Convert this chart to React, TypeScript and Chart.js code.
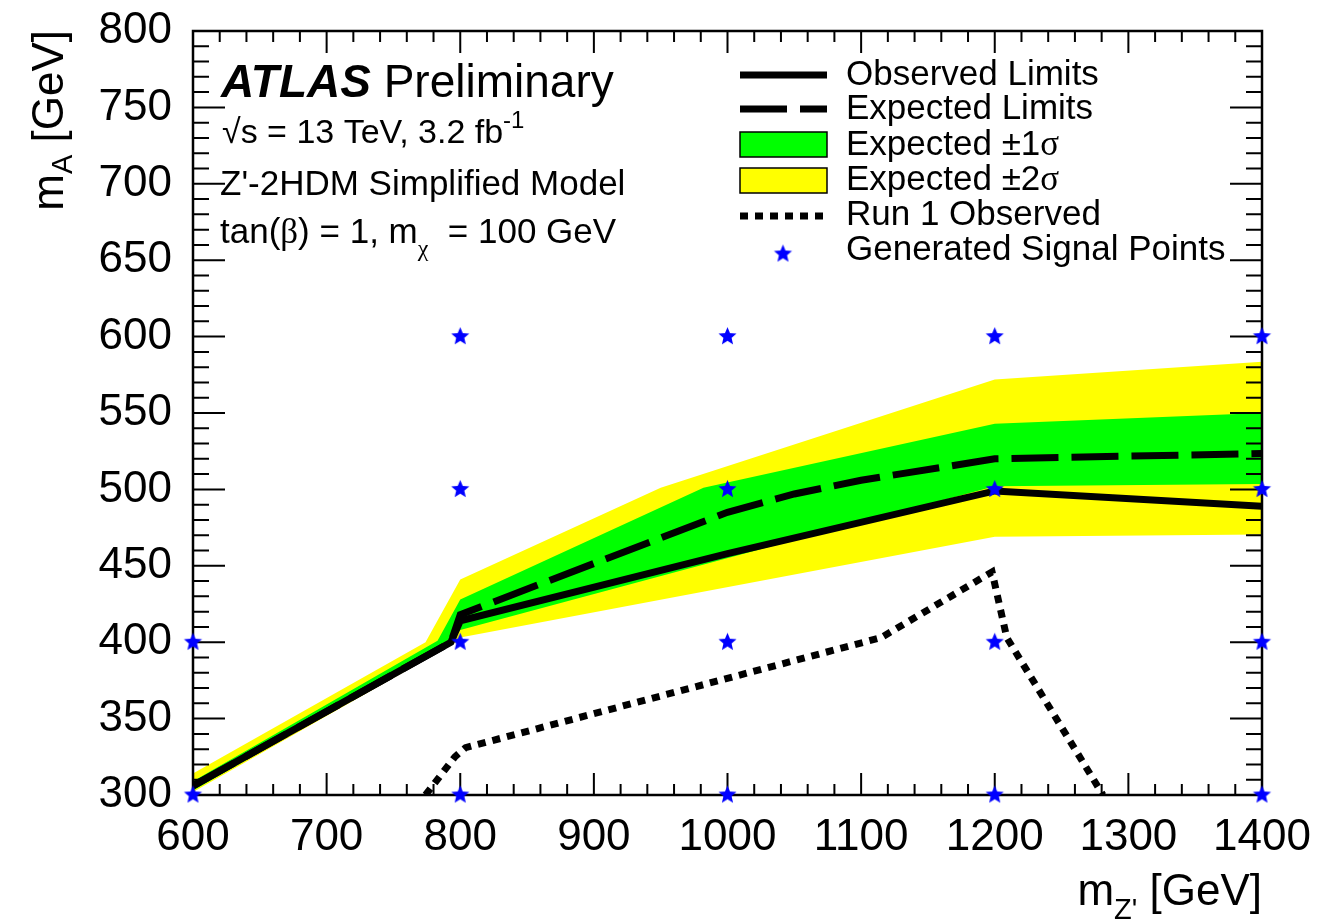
import React, { useEffect, useRef } from 'react';
import { Chart, registerables } from 'chart.js';

Chart.register(...registerables);

const SANS = '"Liberation Sans", Arial, Helvetica, sans-serif';
const SERIF = '"Liberation Serif", "Times New Roman", serif';

// ---- axes ----
const X_MIN = 600;
const X_MAX = 1400;
const X_MAJOR = 100;
const X_MINOR = 20;
const Y_MIN = 300;
const Y_MAX = 800;
const Y_MAJOR = 50;
const Y_MINOR = 10;

// ---- data (m_Z' [GeV], m_A [GeV]) ----
const obsX = [600, 793, 800, 1000, 1200, 1400];
const obsY = [306, 400, 414, 458, 499, 489];

const expX = [600, 793, 800, 1000, 1050, 1100, 1200, 1400];
const expY = [306, 400, 418, 485, 497, 506, 520, 523.5];

const sig1UpX = [600, 783, 800, 982, 1200, 1400];
const sig1UpY = [309, 401, 428, 501, 543, 550];
const sig1LoX = [600, 792, 800, 1200, 1400];
const sig1LoY = [303, 399, 408, 502, 503.5];

const sig2UpX = [600, 774, 800, 950, 1200, 1400];
const sig2UpY = [314, 400, 441, 501, 572, 583.5];
const sig2LoX = [600, 797, 800, 1200, 1400];
const sig2LoY = [302, 400, 403, 469, 470.5];

const run1X = [774, 796, 804, 1115, 1198, 1209, 1281];
const run1Y = [300, 325, 331, 403, 446, 403, 300];

const sigPtX = [600, 600, 800, 800, 800, 800, 1000, 1000, 1000, 1000, 1200, 1200, 1200, 1200, 1400, 1400, 1400, 1400];
const sigPtY = [300, 400, 300, 400, 500, 600, 300, 400, 500, 600, 300, 400, 500, 600, 300, 400, 500, 600];

const legendLabels = [
  'Observed Limits',
  'Expected Limits',
  'Expected ±1σ',
  'Expected ±2σ',
  'Run 1 Observed',
  'Generated Signal Points',
];

const YELLOW = '#ffff00';
const GREEN = '#00ff00';
const BLUE = '#0000ff';

const pts = (xs: number[], ys: number[]) => xs.map((x, i) => ({ x, y: ys[i] }));
const band = (ux: number[], uy: number[], lx: number[], ly: number[]) =>
  [...pts(ux, uy), ...pts(lx, ly).reverse()];

function makeStar(r: number, color: string) {
  const c = document.createElement('canvas');
  const s = Math.ceil(r * 2 + 2);
  c.width = s;
  c.height = s;
  const g = c.getContext('2d')!;
  g.fillStyle = color;
  g.beginPath();
  for (let i = 0; i < 10; i++) {
    const rad = i % 2 === 0 ? r : r * 0.45;
    const a = -Math.PI / 2 + (i * Math.PI) / 5;
    g.lineTo(s / 2 + rad * Math.cos(a), s / 2 + rad * Math.sin(a));
  }
  g.closePath();
  g.fill();
  return c;
}

type Run = { t: string; font: string; dy?: number };

function greek(text: string, size: number, style = ''): Run[] {
  const runs: Run[] = [];
  let cur = '';
  let curG = false;
  const push = () => {
    if (cur) runs.push({ t: cur, font: `${style} ${size}px ${curG ? SERIF : SANS}` });
    cur = '';
  };
  for (const ch of text) {
    const g = 'σβχ'.includes(ch);
    if (g !== curG) {
      push();
      curG = g;
    }
    cur += ch;
  }
  push();
  return runs;
}

function drawRuns(ctx: CanvasRenderingContext2D, runs: Run[], x: number, y: number, align: 'left' | 'right' = 'left') {
  let total = 0;
  for (const r of runs) {
    ctx.font = r.font;
    total += ctx.measureText(r.t).width;
  }
  let cx = align === 'right' ? x - total : x;
  ctx.textAlign = 'left';
  ctx.textBaseline = 'alphabetic';
  for (const r of runs) {
    ctx.font = r.font;
    ctx.fillText(r.t, cx, y + (r.dy || 0));
    cx += ctx.measureText(r.t).width;
  }
}

const frameTicks = {
  id: 'frameTicks',
  afterDatasetDraw(chart: any, args: any) {
    if (args.index !== 1) return;
    const { ctx, chartArea, scales } = chart;
    const { left, right, top, bottom } = chartArea;
    const xs = scales.x;
    const ys = scales.y;
    ctx.save();
    ctx.strokeStyle = '#000';
    ctx.lineWidth = 2;
    ctx.beginPath();
    for (let v = X_MIN; v <= X_MAX; v += X_MINOR) {
      const p = xs.getPixelForValue(v);
      const len = v % X_MAJOR === 0 ? 22 : 11;
      ctx.moveTo(p, bottom);
      ctx.lineTo(p, bottom - len);
      ctx.moveTo(p, top);
      ctx.lineTo(p, top + len);
    }
    for (let v = Y_MIN; v <= Y_MAX; v += Y_MINOR) {
      const p = ys.getPixelForValue(v);
      const len = v % Y_MAJOR === 0 ? 32 : 16;
      ctx.moveTo(left, p);
      ctx.lineTo(left + len, p);
      ctx.moveTo(right, p);
      ctx.lineTo(right - len, p);
    }
    ctx.stroke();
    ctx.lineWidth = 2.5;
    ctx.strokeRect(left, top, right - left, bottom - top);
    ctx.restore();
  },
};

const annotations = {
  id: 'annotations',
  afterDraw(chart: any) {
    const { ctx } = chart;
    const star = chart.$star as HTMLCanvasElement;
    ctx.save();
    ctx.fillStyle = '#000';

    // ATLAS label block
    drawRuns(ctx, [
      { t: 'ATLAS', font: `italic bold 46px ${SANS}` },
      { t: ' Preliminary', font: `46px ${SANS}` },
    ], 221, 97);
    drawRuns(ctx, [
      { t: '√s = 13 TeV, 3.2 fb', font: `34px ${SANS}` },
      { t: '-1', font: `24px ${SANS}`, dy: -15 },
    ], 222, 143);
    drawRuns(ctx, greek("Z'-2HDM Simplified Model", 35), 220, 195);
    drawRuns(ctx, [
      ...greek('tan(β) = 1, m', 35),
      { t: 'χ', font: `24px ${SERIF}`, dy: 13 },
      ...greek('  = 100 GeV', 35),
    ], 220, 243);

    // axis titles
    drawRuns(ctx, [
      { t: 'm', font: `44px ${SANS}` },
      { t: "Z'", font: `29px ${SANS}`, dy: 14 },
      { t: ' [GeV]', font: `44px ${SANS}` },
    ], 1262, 905, 'right');
    ctx.save();
    ctx.translate(63, 30);
    ctx.rotate(-Math.PI / 2);
    drawRuns(ctx, [
      { t: 'm', font: `44px ${SANS}` },
      { t: 'A', font: `29px ${SANS}`, dy: 9 },
      { t: ' [GeV]', font: `44px ${SANS}` },
    ], 0, 0, 'right');
    ctx.restore();

    // legend
    const textX = 846;
    const baselines = [85, 119, 155, 190, 225, 260];
    legendLabels.forEach((lab, i) => {
      ctx.fillStyle = '#000';
      drawRuns(ctx, greek(lab, 35), textX, baselines[i]);
    });
    const x0 = 740;
    const x1 = 827;
    ctx.strokeStyle = '#000';
    ctx.lineCap = 'butt';
    ctx.lineWidth = 7;
    // observed
    ctx.setLineDash([]);
    ctx.beginPath();
    ctx.moveTo(x0, 75);
    ctx.lineTo(x1, 75);
    ctx.stroke();
    // expected
    ctx.setLineDash([47, 13]);
    ctx.beginPath();
    ctx.moveTo(x0, 109);
    ctx.lineTo(x1, 109);
    ctx.stroke();
    // run 1
    ctx.setLineDash([8, 7]);
    ctx.beginPath();
    ctx.moveTo(x0, 216);
    ctx.lineTo(x1, 216);
    ctx.stroke();
    ctx.setLineDash([]);
    // boxes
    ctx.lineWidth = 1.5;
    ctx.fillStyle = GREEN;
    ctx.fillRect(x0, 132, x1 - x0, 25);
    ctx.strokeRect(x0, 132, x1 - x0, 25);
    ctx.fillStyle = YELLOW;
    ctx.fillRect(x0, 168, x1 - x0, 25);
    ctx.strokeRect(x0, 168, x1 - x0, 25);
    // star
    if (star) ctx.drawImage(star, 783 - star.width / 2, 254 - star.height / 2);
    ctx.restore();
  },
};

export default function App() {
  const ref = useRef<HTMLCanvasElement>(null);

  useEffect(() => {
    const starImg = makeStar(9.5, BLUE);
    const chart: any = new Chart(ref.current!, {
      type: 'scatter',
      data: {
        datasets: [
          {
            label: 'Generated Signal Points',
            data: pts(sigPtX, sigPtY),
            pointStyle: starImg as any,
            pointRadius: 9,
            showLine: false,
            clip: false as any,
          },
          {
            label: 'Observed Limits',
            data: pts(obsX, obsY),
            showLine: true,
            borderColor: '#000',
            borderWidth: 7,
            pointRadius: 0,
            fill: false,
            borderJoinStyle: 'miter',
          },
          {
            label: 'Expected Limits',
            data: pts(expX, expY),
            showLine: true,
            borderColor: '#000',
            borderWidth: 7,
            borderDash: [47, 13],
            pointRadius: 0,
            fill: false,
          },
          {
            label: 'Run 1 Observed',
            data: pts(run1X, run1Y),
            showLine: true,
            borderColor: '#000',
            borderWidth: 7,
            borderDash: [8, 7],
            pointRadius: 0,
            fill: false,
          },
          {
            label: 'Expected ±1σ',
            data: band(sig1UpX, sig1UpY, sig1LoX, sig1LoY),
            showLine: true,
            borderColor: 'rgba(0,0,0,0)',
            borderWidth: 0,
            backgroundColor: GREEN,
            pointRadius: 0,
            fill: 'shape' as any,
          },
          {
            label: 'Expected ±2σ',
            data: band(sig2UpX, sig2UpY, sig2LoX, sig2LoY),
            showLine: true,
            borderColor: 'rgba(0,0,0,0)',
            borderWidth: 0,
            backgroundColor: YELLOW,
            pointRadius: 0,
            fill: 'shape' as any,
          },
        ],
      },
      options: {
        animation: false,
        responsive: false,
        devicePixelRatio: 1,
        events: [],
        layout: { autoPadding: false, padding: { left: 0, top: 31, right: 57, bottom: 0 } },
        plugins: {
          legend: { display: false },
          tooltip: { enabled: false },
          title: { display: false },
        },
        scales: {
          x: {
            type: 'linear',
            min: X_MIN,
            max: X_MAX,
            grid: { display: false, drawTicks: true, tickLength: 16 },
            border: { display: false },
            ticks: {
              stepSize: X_MAJOR,
              color: '#000',
              padding: 0,
              maxRotation: 0,
              font: { family: SANS, size: 44 },
              callback: (v: any) => String(v),
            },
            afterFit: (s: any) => {
              s.height = 126;
            },
          },
          y: {
            type: 'linear',
            min: Y_MIN,
            max: Y_MAX,
            grid: { display: false, drawTicks: true, tickLength: 21 },
            border: { display: false },
            ticks: {
              stepSize: Y_MAJOR,
              color: '#000',
              padding: 0,
              font: { family: SANS, size: 44 },
              callback: (v: any) => String(v),
            },
            afterFit: (s: any) => {
              s.width = 193;
            },
          },
        },
      },
      plugins: [frameTicks, annotations],
    });
    chart.$star = starImg;
    chart.draw();
    return () => chart.destroy();
  }, []);

  return (
    <div style={{ position: 'fixed', left: 0, top: 0, width: 1319, height: 921, background: '#fff' }}>
      <canvas ref={ref} width={1319} height={921} style={{ width: 1319, height: 921, display: 'block' }} />
    </div>
  );
}
